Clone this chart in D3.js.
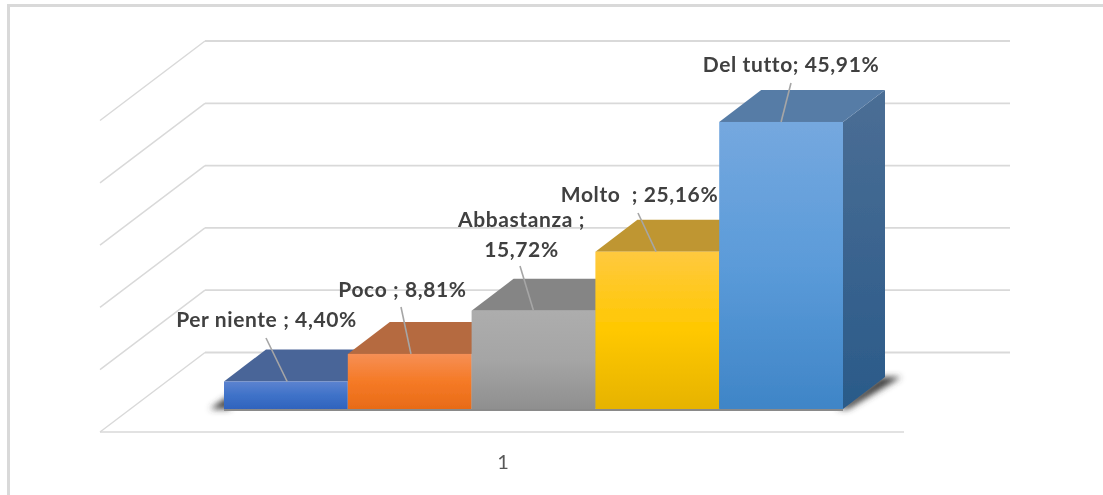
<!DOCTYPE html>
<html><head><meta charset="utf-8">
<script src="https://cdn.jsdelivr.net/npm/d3@7"></script>
<style>html,body{margin:0;padding:0;background:#fff;overflow:hidden}svg{display:block}</style>
</head><body><div id="chart"></div>
<script>
const categories = ["Per niente", "Poco", "Abbastanza", "Molto", "Del tutto"];
const values = [4.40, 8.81, 15.72, 25.16, 45.91];
const labelLines = [["Per niente ; 4,40%"], ["Poco ; 8,81%"], ["Abbastanza ;", "15,72%"], ["Molto\u00A0 ; 25,16%"], ["Del tutto; 45,91%"]];
const valueTicks = [0, 10, 20, 30, 40, 50];
const xTickLabels = ["1"];

// layout (not data)
const W = 1103, H = 495, depthX = 42, depthY = -32;
const floorFrontY = 432, floorBackY = 352.5, floorLeft = 100, floorBackLeft = 205, floorRight = 904, backRight = 1010;
const base = 409;
const x = d3.scaleBand().domain(categories).range([224, 843]).padding(0);
const h = d3.scaleLinear().domain([0, 50]).range([0, 312.6]);
const gridY = d3.scaleLinear().domain([0, 50]).range([floorBackY, 41]);
const fill = [
  {front:["#5c83d0","#3f72c8","#2f63bd"], top:"#4a6598"},
  {front:["#f68f55","#f57a26","#e86b18"], top:"#b56a40"},
  {front:["#adadad","#a5a5a5","#8f8f8f"], top:"#858585"},
  {front:["#ffc93f","#ffc800","#e6b300"], top:"#bf9631"},
  {front:["#75a8df","#5b9bd9","#3f85c7"], top:"#577ca6"}
];
const labelPos = [[266.5,327],[402.5,297],[521.5,227],[639.5,202],[791,72]];
const leaderFrom = [[266,338],[401,307],[520,266],[638,213],[791,83]];
const leaderAt = [0.51,0.51,0.50,0.49,0.50];

const svg = d3.select("#chart").append("svg").attr("width", W).attr("height", H);
const defs = svg.append("defs");
defs.append("filter").attr("id","soft").attr("filterUnits","userSpaceOnUse").attr("x",0).attr("y",0).attr("width",W).attr("height",H)
  .append("feGaussianBlur").attr("stdDeviation",0.45);
defs.append("filter").attr("id","shadow").attr("filterUnits","userSpaceOnUse").attr("x",0).attr("y",0).attr("width",W).attr("height",H)
  .append("feGaussianBlur").attr("stdDeviation",3.2);
fill.forEach((f,i)=>{
  const g = defs.append("linearGradient").attr("id","front"+i).attr("x1",0).attr("x2",0).attr("y1",0).attr("y2",1);
  f.front.forEach((c,k)=>g.append("stop").attr("offset",k/2).attr("stop-color",c));
});
const sideG = defs.append("linearGradient").attr("id","side").attr("x1",0).attr("x2",0).attr("y1",0).attr("y2",1);
sideG.append("stop").attr("offset",0).attr("stop-color","#4b6e95");
sideG.append("stop").attr("offset",1).attr("stop-color","#2a5a89");

// chart frame
svg.append("path").attr("d",`M8.5,${H} V5.5 H${W}`).attr("fill","none").attr("stroke","#d9d9d9").attr("stroke-width",3);

// walls and floor
const grid = svg.append("g").attr("fill","none").attr("stroke","#d9d9d9").attr("filter","url(#soft)");
valueTicks.forEach(t=>{
  const y = gridY(t), dy = floorFrontY - floorBackY;
  grid.append("path").attr("stroke-width",1.8)
    .attr("d",`M${floorBackLeft},${y} H${backRight}`);
  grid.append("path").attr("stroke-width",1.5)
    .attr("d",`M${floorLeft},${y+dy} L${floorBackLeft},${y}`);
});
grid.append("path").attr("stroke-width",1.6).attr("d",`M${floorLeft},${floorFrontY} H${floorRight}`);

// floor shadow
const xL = x(categories[0]), xR = x(categories[4]) + x.bandwidth();
const shadow = svg.append("g").attr("filter","url(#shadow)").attr("fill","#3c3c3c");
shadow.append("path").attr("d",`M${xL-14},${base} L${xL+6},${base} L${xL+6},${base-14} Z`);
shadow.append("path").attr("d",`M${xR-6},${base} L${xR+5},${base} L${xR+depthX+16},${base+depthY} L${xR+depthX-4},${base+depthY} Z`);

const root = svg.append("g").attr("filter","url(#soft)");
root.append("rect").attr("x",xL).attr("y",base).attr("width",xR-xL).attr("height",2).attr("fill","#8a8a8a");

// bars
const bars = root.selectAll("g.bar").data(categories).join("g").attr("class","bar");
bars.each(function(c,i){
  const g = d3.select(this), x0 = x(c), x1 = x0 + x.bandwidth(), y = base - h(values[i]);
  g.append("path").attr("fill","url(#side)")
    .attr("d",`M${x1},${y} L${x1+depthX},${y+depthY} V${base+depthY} L${x1},${base} Z`);
  g.append("path").attr("fill",fill[i].top)
    .attr("d",`M${x0},${y} L${x0+depthX},${y+depthY} H${x1+depthX} L${x1},${y} Z`);
  g.append("rect").attr("x",x0).attr("y",y).attr("width",x.bandwidth()).attr("height",h(values[i]))
    .attr("fill",`url(#front${i})`);
});

// leaders
root.selectAll("line.leader").data(categories).join("line").attr("class","leader")
  .attr("x1",(c,i)=>leaderFrom[i][0]).attr("y1",(c,i)=>leaderFrom[i][1])
  .attr("x2",(c,i)=>x(c)+leaderAt[i]*x.bandwidth()).attr("y2",(c,i)=>base-h(values[i]))
  .attr("stroke","#a6a6a6").attr("stroke-width",1.6);

// labels
const lab = root.append("g").attr("font-family","Lato, Carlito, sans-serif").attr("font-weight",700)
  .attr("font-size",21).attr("letter-spacing",0.6).attr("fill","#404040").attr("text-anchor","middle");
labelLines.forEach((lines,i)=>{
  lines.forEach((s,k)=>{
    lab.append("text").attr("x",labelPos[i][0]).attr("y",labelPos[i][1]+k*29.5).text(s);
  });
});

// category axis label
root.selectAll("text.tick").data(xTickLabels).join("text").attr("class","tick")
  .attr("x",503).attr("y",469).attr("text-anchor","middle")
  .attr("font-family","Lato, Carlito, sans-serif").attr("font-size",20).attr("fill","#595959").text(d=>d);
</script></body></html>
